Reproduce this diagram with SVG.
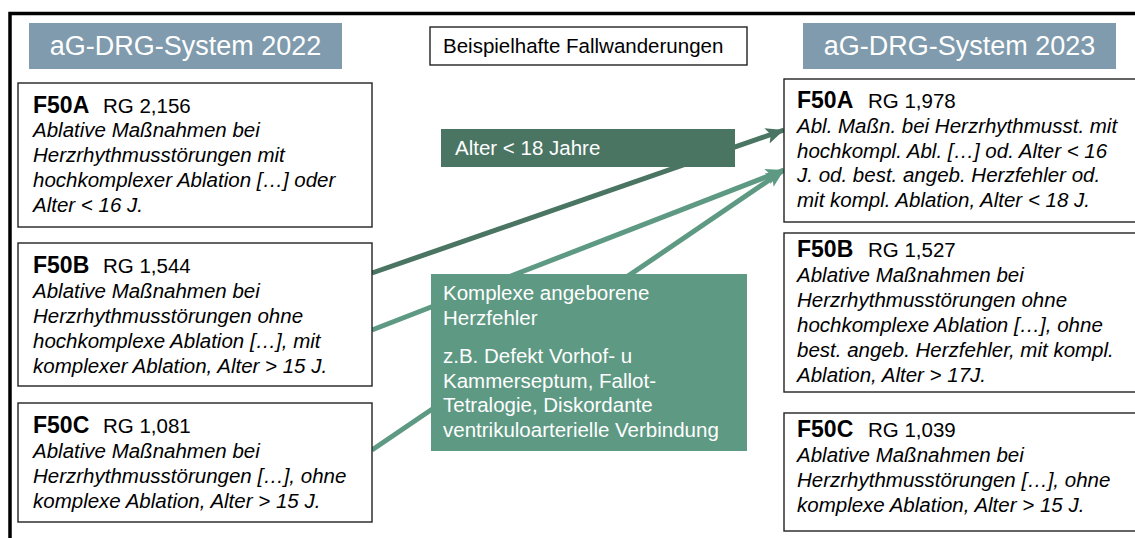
<svg xmlns="http://www.w3.org/2000/svg" width="1135" height="538" viewBox="0 0 1135 538">
<style>
.box{fill:#fff;stroke:#222;stroke-width:1.4}
.hdr{fill:#7f9bad}
.hdrt{font-family:"Liberation Sans",Arial,sans-serif;font-size:27px;fill:#fff;text-anchor:middle}
.t{font-family:"Liberation Sans",Arial,sans-serif;font-size:20.5px;fill:#000}
.b{font-family:"Liberation Sans",Arial,sans-serif;font-size:23px;font-weight:bold;fill:#000}
.i{font-family:"Liberation Sans",Arial,sans-serif;font-size:20.5px;font-style:italic;fill:#000}
.w{font-family:"Liberation Sans",Arial,sans-serif;font-size:20.5px;fill:#fff}
.dk{stroke:#4a7563;stroke-width:5;fill:none}
.lt{stroke:#5e9983;stroke-width:5;fill:none}
</style>
<defs>
<marker id="ahd" markerUnits="userSpaceOnUse" markerWidth="22" markerHeight="20" refX="18" refY="8" orient="auto" viewBox="0 0 22 16">
<path d="M0,0 L18,8 L0,16 L4,8 Z" fill="#4a7563"/>
</marker>
<marker id="ahl" markerUnits="userSpaceOnUse" markerWidth="22" markerHeight="20" refX="18" refY="8" orient="auto" viewBox="0 0 22 16">
<path d="M0,0 L18,8 L0,16 L4,8 Z" fill="#5e9983"/>
</marker>
</defs>
<rect width="1135" height="538" fill="#fff"/>
<g id="frame">
<path d="M10,538 L10,13.5 L1135,13.5" fill="none" stroke="#000" stroke-width="3.5"/>
</g>
<g id="connectors">
<line class="dk" x1="372" y1="273" x2="784" y2="130" marker-end="url(#ahd)"/>
<line class="lt" x1="372" y1="330" x2="784" y2="170" marker-end="url(#ahl)"/>
<line class="lt" x1="372" y1="450" x2="784" y2="170" marker-end="url(#ahl)"/>
</g>
<g id="header2022">
<rect class="hdr" x="29" y="23" width="313" height="46"/>
<text class="hdrt" x="185.5" y="55">aG-DRG-System 2022</text>
</g>
<g id="header2023">
<rect class="hdr" x="803" y="23" width="313" height="46"/>
<text class="hdrt" x="959.5" y="55">aG-DRG-System 2023</text>
</g>
<g id="title">
<rect class="box" x="430" y="27" width="317" height="38"/>
<text class="t" x="443" y="53">Beispielhafte Fallwanderungen</text>
</g>
<g id="alter">
<rect x="441" y="129" width="294" height="38" fill="#4a7563"/>
<text class="w" x="455" y="155">Alter &lt; 18 Jahre</text>
</g>
<g id="herzfehler">
<rect x="431" y="274" width="316" height="177" fill="#5e9983"/>
<text class="w" x="443" y="300">Komplexe angeborene</text>
<text class="w" x="443" y="325">Herzfehler</text>
<text class="w" x="443" y="363">z.B. Defekt Vorhof- u</text>
<text class="w" x="443" y="388">Kammerseptum, Fallot-</text>
<text class="w" x="443" y="412">Tetralogie, Diskordante</text>
<text class="w" x="443" y="437">ventrikuloarterielle Verbindung</text>
</g>
<g id="F50A-2022">
<rect class="box" x="18" y="83" width="354" height="144"/>
<text class="b" x="33" y="113">F50A</text>
<text class="t" x="103" y="113">RG 2,156</text>
<text class="i" x="33" y="137">Ablative Maßnahmen bei</text>
<text class="i" x="33" y="162">Herzrhythmusstörungen mit</text>
<text class="i" x="33" y="187">hochkomplexer Ablation […] oder</text>
<text class="i" x="33" y="212">Alter &lt; 16 J.</text>
</g>
<g id="F50B-2022">
<rect class="box" x="18" y="243" width="354" height="143"/>
<text class="b" x="33" y="273">F50B</text>
<text class="t" x="103" y="273">RG 1,544</text>
<text class="i" x="33" y="298">Ablative Maßnahmen bei</text>
<text class="i" x="33" y="323">Herzrhythmusstörungen ohne</text>
<text class="i" x="33" y="348">hochkomplexe Ablation […], mit</text>
<text class="i" x="33" y="373">komplexer Ablation, Alter &gt; 15 J.</text>
</g>
<g id="F50C-2022">
<rect class="box" x="18" y="403" width="354" height="119"/>
<text class="b" x="33" y="433">F50C</text>
<text class="t" x="103" y="433">RG 1,081</text>
<text class="i" x="33" y="458">Ablative Maßnahmen bei</text>
<text class="i" x="33" y="483">Herzrhythmusstörungen […], ohne</text>
<text class="i" x="33" y="508">komplexe Ablation, Alter &gt; 15 J.</text>
</g>
<g id="F50A-2023">
<rect class="box" x="784" y="79" width="360" height="143"/>
<text class="b" x="797" y="108">F50A</text>
<text class="t" x="868" y="108">RG 1,978</text>
<text class="i" x="797" y="133">Abl. Maßn. bei Herzrhythmusst. mit</text>
<text class="i" x="797" y="158">hochkompl. Abl. […] od. Alter &lt; 16</text>
<text class="i" x="797" y="182">J. od. best. angeb. Herzfehler od.</text>
<text class="i" x="797" y="207">mit kompl. Ablation, Alter &lt; 18 J.</text>
</g>
<g id="F50B-2023">
<rect class="box" x="784" y="233" width="360" height="159"/>
<text class="b" x="797" y="257">F50B</text>
<text class="t" x="868" y="257">RG 1,527</text>
<text class="i" x="797" y="282">Ablative Maßnahmen bei</text>
<text class="i" x="797" y="307">Herzrhythmusstörungen ohne</text>
<text class="i" x="797" y="332">hochkomplexe Ablation […], ohne</text>
<text class="i" x="797" y="357">best. angeb. Herzfehler, mit kompl.</text>
<text class="i" x="797" y="382">Ablation, Alter &gt; 17J.</text>
</g>
<g id="F50C-2023">
<rect class="box" x="784" y="413" width="360" height="118"/>
<text class="b" x="797" y="437">F50C</text>
<text class="t" x="868" y="437">RG 1,039</text>
<text class="i" x="797" y="462">Ablative Maßnahmen bei</text>
<text class="i" x="797" y="487">Herzrhythmusstörungen […], ohne</text>
<text class="i" x="797" y="512">komplexe Ablation, Alter &gt; 15 J.</text>
</g>
</svg>
